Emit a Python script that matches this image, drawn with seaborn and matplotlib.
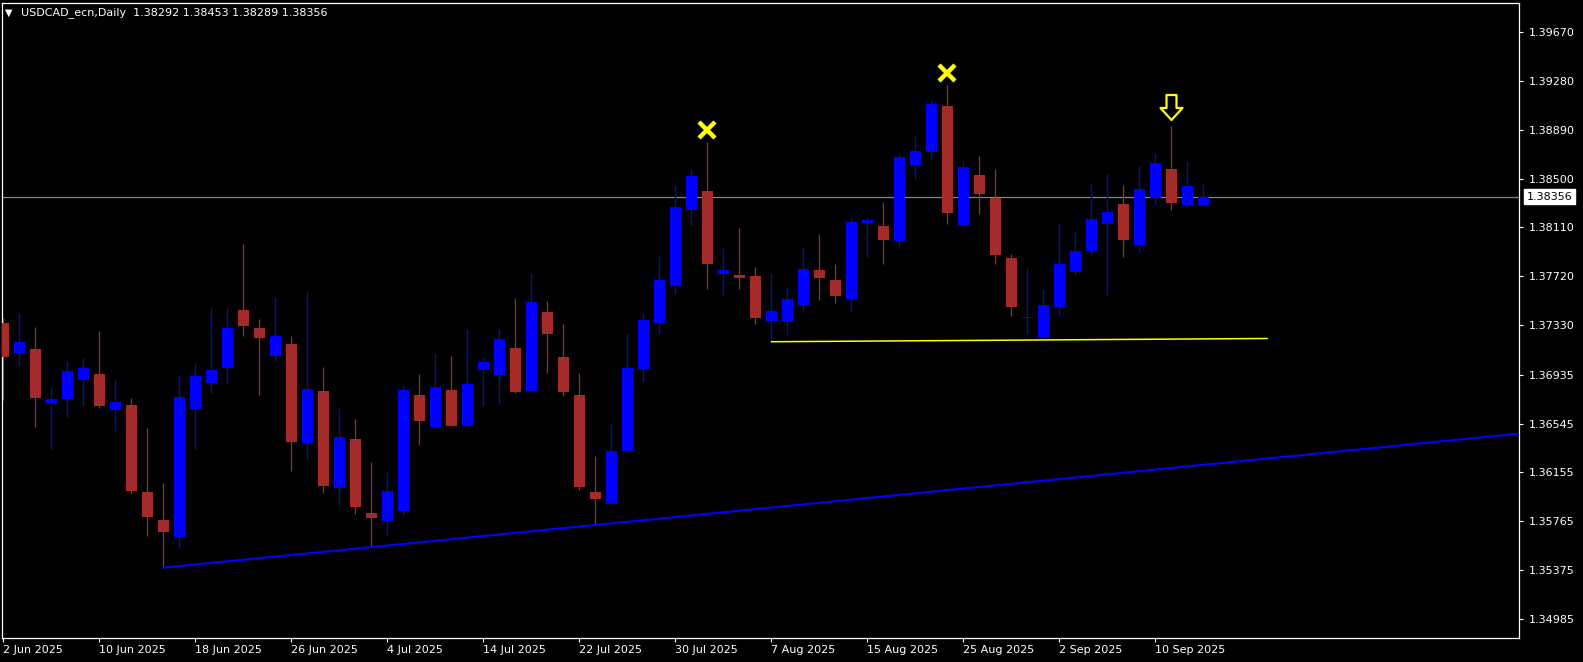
import numpy as np
import pandas as pd
import matplotlib
matplotlib.use("Agg")
import matplotlib.pyplot as plt
import matplotlib.transforms as mtransforms
from matplotlib.path import Path
from matplotlib.markers import MarkerStyle
import seaborn as sns

# ---------------- data ----------------
symbol = "USDCAD_ecn,Daily"
first_day = "2025-06-02"

opens = [1.37348, 1.37108, 1.37140, 1.36709, 1.36741, 1.36895, 1.36940, 1.36656, 1.36693, 1.35999,
         1.35775, 1.35642, 1.36661, 1.36869, 1.36991, 1.37451, 1.37308, 1.37087, 1.37180, 1.36392,
         1.36805, 1.36033, 1.36422, 1.35831, 1.35770, 1.35850, 1.36773, 1.36520, 1.36813, 1.36528,
         1.36975, 1.36935, 1.37148, 1.36807, 1.37435, 1.37076, 1.36773, 1.35999, 1.35905, 1.36328,
         1.36983, 1.37344, 1.37653, 1.38252, 1.38401, 1.37741, 1.37731, 1.37723, 1.37366, 1.37358,
         1.37494, 1.37771, 1.37691, 1.37542, 1.38146, 1.38122, 1.38004, 1.38611, 1.38715, 1.39079,
         1.38132, 1.38529, 1.38345, 1.37866, 1.37385, 1.37230, 1.37475, 1.37757, 1.37922, 1.38140,
         1.38297, 1.37973, 1.38348, 1.38577, 1.38292, 1.38292]
highs = [1.37390, 1.37427, 1.37316, 1.36837, 1.37044, 1.37068, 1.37284, 1.36901, 1.36749, 1.36510,
         1.36071, 1.36933, 1.37028, 1.37467, 1.37467, 1.37978, 1.37379, 1.37547, 1.37244, 1.37595,
         1.36996, 1.36669, 1.36581, 1.36238, 1.36158, 1.36853, 1.36940, 1.37100, 1.37084, 1.37300,
         1.37076, 1.37300, 1.37547, 1.37747, 1.37523, 1.37340, 1.36949, 1.36286, 1.36544, 1.37260,
         1.37419, 1.37882, 1.38449, 1.38577, 1.38792, 1.37946, 1.38106, 1.37794, 1.37739, 1.37635,
         1.37954, 1.38058, 1.37818, 1.38194, 1.38194, 1.38313, 1.38704, 1.38840, 1.39127, 1.39247,
         1.38640, 1.38680, 1.38577, 1.37898, 1.37787, 1.37619, 1.38146, 1.38074, 1.38457, 1.38545,
         1.38449, 1.38601, 1.38696, 1.38920, 1.38640, 1.38453]
lows = [1.36733, 1.37003, 1.36520, 1.36336, 1.36592, 1.36688, 1.36672, 1.36488, 1.35985, 1.35650,
        1.35395, 1.35554, 1.36336, 1.36783, 1.36863, 1.37246, 1.36775, 1.37047, 1.36169, 1.36265,
        1.35993, 1.35897, 1.35826, 1.35560, 1.35656, 1.35810, 1.36376, 1.36514, 1.36522, 1.36516,
        1.36688, 1.36703, 1.36791, 1.36801, 1.36951, 1.36767, 1.36017, 1.35738, 1.35897, 1.36320,
        1.36879, 1.37264, 1.37581, 1.38124, 1.37621, 1.37573, 1.37621, 1.37342, 1.37212, 1.37254,
        1.37446, 1.37534, 1.37510, 1.37438, 1.37869, 1.37821, 1.37957, 1.38499, 1.38656, 1.38140,
        1.38130, 1.38220, 1.37821, 1.37406, 1.37260, 1.37224, 1.37411, 1.37731, 1.37890, 1.37571,
        1.37877, 1.37925, 1.38300, 1.38252, 1.38268, 1.38289]
closes = [1.37079, 1.37196, 1.36751, 1.36741, 1.36964, 1.36988, 1.36688, 1.36717, 1.36009, 1.35802,
          1.35682, 1.36757, 1.36925, 1.36972, 1.37308, 1.37326, 1.37230, 1.37244, 1.36400, 1.36821,
          1.36049, 1.36438, 1.35881, 1.35794, 1.36007, 1.36813, 1.36568, 1.36837, 1.36528, 1.36861,
          1.37036, 1.37220, 1.36799, 1.37515, 1.37262, 1.36799, 1.36041, 1.35945, 1.36326, 1.36988,
          1.37372, 1.37691, 1.38273, 1.38521, 1.37821, 1.37771, 1.37709, 1.37390, 1.37443, 1.37539,
          1.37778, 1.37709, 1.37565, 1.38154, 1.38170, 1.38012, 1.38672, 1.38720, 1.39095, 1.38228,
          1.38593, 1.38380, 1.37893, 1.37478, 1.37388, 1.37491, 1.37818, 1.37922, 1.38178, 1.38234,
          1.38012, 1.38417, 1.38625, 1.38308, 1.38441, 1.38356]

xtick_labels = ["2 Jun 2025", "10 Jun 2025", "18 Jun 2025", "26 Jun 2025", "4 Jul 2025",
                "14 Jul 2025", "22 Jul 2025", "30 Jul 2025", "7 Aug 2025", "15 Aug 2025",
                "25 Aug 2025", "2 Sep 2025", "10 Sep 2025"]
ytick_values = [1.39670, 1.39280, 1.38890, 1.38500, 1.38110, 1.37720, 1.37330,
                1.36935, 1.36545, 1.36155, 1.35765, 1.35375, 1.34985]

rising_trend_bars = [10, 95]
rising_trend_prices = [1.35395, 1.36468]
support_bars = [48, 79]
support_prices = [1.37198, 1.37224]
x_mark_bars = [44, 59]
arrow_bars = [73]

# ---------------- style ----------------
W, H, DPI = 1583, 662, 100
sns.set_theme(style="ticks", rc={
    "axes.grid": False,
    "figure.facecolor": "black",
    "axes.facecolor": "black",
    "savefig.facecolor": "black",
})
plt.rcParams["font.family"] = ["DejaVu Sans"]

BLUE = "#0000FF"
RED = "#A52A2A"

fig = plt.figure(figsize=(W / DPI, H / DPI), dpi=DPI)
ax = fig.add_axes([2 / W, 1 - 638 / H, (1519 - 2) / W, (638 - 3) / H])
ax.set_facecolor("black")

dates = pd.bdate_range(first_day, periods=len(opens))
idx = np.arange(len(opens))
o = np.array(opens); h = np.array(highs); l = np.array(lows); c = np.array(closes)
up = c > o
colors = np.where(up, BLUE, RED)

px = 1 / 12529.0  # one pixel in price units (for minimum body)
bottoms = np.minimum(o, c)
heights = np.maximum(np.abs(c - o), px)

ax.vlines(idx, l, h, colors=colors, linewidth=0.9, zorder=2)
ax.bar(idx, heights, bottom=bottoms, width=0.69, color=colors, linewidth=0, zorder=3)

# current price line
current_price = closes[-1]
ax.axhline(current_price, color="#778899", linewidth=0.9, zorder=1)

# trend lines
sns.lineplot(x=rising_trend_bars, y=rising_trend_prices, ax=ax, color=BLUE, linewidth=1.5, zorder=4)
sns.lineplot(x=support_bars, y=support_prices, ax=ax, color="#FFFF00", linewidth=1.1, zorder=4)

# markers above highs
tr_x = mtransforms.offset_copy(ax.transData, fig=fig, x=0, y=12.5, units="dots")
ax.plot(x_mark_bars, [highs[i] for i in x_mark_bars], linestyle="none", marker="x",
        markersize=11, markeredgewidth=3.2, color="#FFFF00", transform=tr_x, zorder=5)

arrow_verts = [(-0.2, 0.5), (0.2, 0.5), (0.2, -0.02), (0.44, -0.02), (0.0, -0.5),
               (-0.44, -0.02), (-0.2, -0.02), (-0.2, 0.5)]
arrow_codes = [Path.MOVETO] + [Path.LINETO] * 6 + [Path.CLOSEPOLY]
arrow_marker = MarkerStyle(Path(arrow_verts, arrow_codes))
tr_a = mtransforms.offset_copy(ax.transData, fig=fig, x=0, y=18.5, units="dots")
ax.plot(arrow_bars, [highs[i] for i in arrow_bars], linestyle="none", marker=arrow_marker,
        markersize=18, markerfacecolor="black", markeredgecolor="#FFFF00",
        markeredgewidth=1.6, transform=tr_a, zorder=5)

# limits
ax.set_xlim(-0.08, 94.73)
ax.set_ylim(1.348335, 1.399015)

# axes / ticks
for sp in ax.spines.values():
    sp.set_color("white")
    sp.set_linewidth(0.9)
    sp.set_visible(True)

ax.yaxis.tick_right()
ax.set_yticks(ytick_values)
ax.set_yticklabels([f"{v:.5f}" for v in ytick_values])
xpos = [dates.get_loc(pd.Timestamp(pd.to_datetime(s, format="%d %b %Y"))) for s in xtick_labels]
ax.set_xticks(xpos)
ax.set_xticklabels(xtick_labels)
for t in ax.get_xticklabels():
    t.set_ha("left")
ax.tick_params(axis="both", colors="white", labelcolor="white", labelsize=8,
               length=3, width=0.8, direction="out")
ax.tick_params(axis="y", pad=4)
ax.tick_params(axis="x", pad=2)
ax.set_xlabel("")
ax.set_ylabel("")

# current price tag on the axis
ax.annotate(f"{current_price:.5f}", xy=(1, current_price), xycoords=("axes fraction", "data"),
            xytext=(5.5, 0), textcoords="offset points", ha="left", va="center",
            fontsize=8, color="black",
            bbox=dict(boxstyle="square,pad=0.25", fc="white", ec="white"),
            annotation_clip=False, zorder=6)

# header
fig.text(5 / W, 1 - 12.5 / H, "\u25BC", color="white", fontsize=7, ha="left", va="center")
fig.text(21 / W, 1 - 12.5 / H,
         f"{symbol}  {opens[-1]:.5f} {highs[-1]:.5f} {lows[-1]:.5f} {closes[-1]:.5f}",
         color="white", fontsize=8, ha="left", va="center")

fig.savefig("out.png", dpi=DPI, facecolor="black")
